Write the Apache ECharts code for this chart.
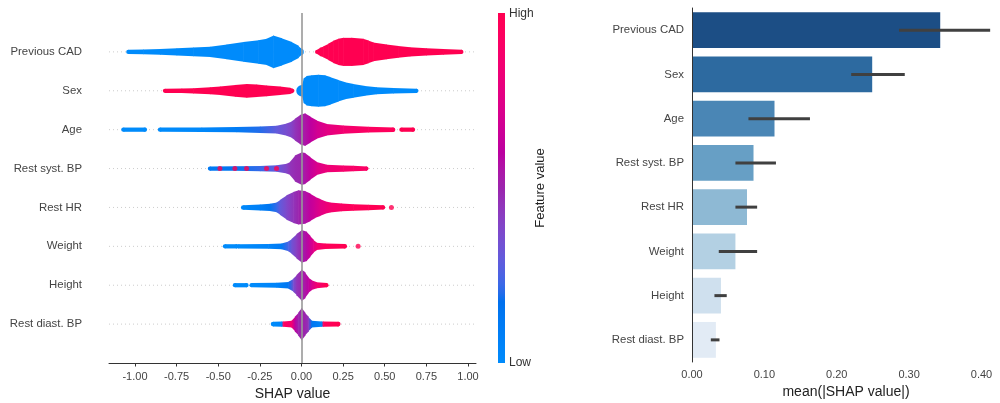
<!DOCTYPE html>
<html>
<head>
<meta charset="utf-8">
<script src="https://cdn.jsdelivr.net/npm/echarts@6/dist/echarts.min.js"></script>
<style>
  html, body { margin: 0; padding: 0; background: #fff; }
  #chart { width: 1000px; height: 403px; }
</style>
</head>
<body>
<div id="chart"></div>
<script>
// ---- Data -------------------------------------------------------------
const features = ['Previous CAD', 'Sex', 'Age', 'Rest syst. BP', 'Rest HR', 'Weight', 'Height', 'Rest diast. BP'];

// Beeswarm outlines per feature: [SHAP value, relative swarm thickness, feature value (0 low .. 1 high)]
const prevCadLow = [[-1.04,0.13,0],[-0.95,0.15,0],[-0.85,0.18,0],[-0.75,0.22,0],[-0.65,0.27,0],[-0.55,0.32,0],[-0.45,0.45,0],[-0.35,0.6,0],[-0.26,0.72,0],[-0.21,0.8,0],[-0.17,1.0,0],[-0.12,0.83,0],[-0.06,0.6,0],[-0.02,0.38,0],[-0.006,0.2,0]];
const prevCadHigh = [[0.094,0.13,1],[0.11,0.25,1],[0.13,0.33,1],[0.16,0.5,1],[0.19,0.68,1],[0.22,0.8,1],[0.25,0.86,1],[0.30,0.86,1],[0.37,0.81,1],[0.40,0.7,1],[0.43,0.57,1],[0.51,0.45,1],[0.58,0.36,1],[0.65,0.28,1],[0.75,0.22,1],[0.85,0.18,1],[0.96,0.13,1]];
const sexHigh = [[-0.82,0.13,1],[-0.72,0.14,1],[-0.65,0.16,1],[-0.55,0.22,1],[-0.49,0.26,1],[-0.40,0.36,1],[-0.33,0.42,1],[-0.27,0.38,1],[-0.21,0.33,1],[-0.13,0.26,1],[-0.07,0.19,1],[-0.055,0.13,1]];
const sexLow = [[0.003,0.35,0],[0.012,0.75,0],[0.03,0.9,0],[0.06,0.95,0],[0.10,0.98,0],[0.14,0.95,0],[0.17,0.85,0],[0.22,0.66,0],[0.26,0.52,0],[0.31,0.42,0],[0.38,0.3,0],[0.45,0.22,0],[0.55,0.17,0],[0.69,0.13,0]];
const ageLowTail = [[-1.07,0.13,0],[-0.94,0.13,0]];
const ageMain = [[-0.85,0.13,0],[-0.6,0.14,0.02],[-0.39,0.16,0.1],[-0.25,0.2,0.2],[-0.15,0.24,0.3],[-0.09,0.38,0.36],[-0.06,0.5,0.4],[-0.04,0.67,0.45],[-0.01,0.9,0.5],[0.02,1.0,0.55],[0.05,0.8,0.6],[0.09,0.56,0.68],[0.15,0.35,0.76],[0.25,0.25,0.86],[0.40,0.18,0.93],[0.55,0.14,0.96]];
const ageHighTail = [[0.60,0.13,1],[0.67,0.13,1]];
const systBp = [[-0.55,0.13,0.12],[-0.40,0.14,0.15],[-0.25,0.16,0.22],[-0.15,0.2,0.3],[-0.09,0.3,0.4],[-0.07,0.4,0.45],[-0.04,0.8,0.48],[0.0,1.0,0.5],[0.02,0.95,0.55],[0.05,0.7,0.62],[0.09,0.4,0.72],[0.15,0.23,0.82],[0.25,0.19,0.88],[0.31,0.17,0.9],[0.39,0.13,0.92]];
const restHr = [[-0.35,0.14,0.02],[-0.25,0.18,0.08],[-0.19,0.22,0.15],[-0.15,0.3,0.22],[-0.13,0.45,0.3],[-0.09,0.75,0.38],[-0.05,0.95,0.45],[-0.02,1.05,0.5],[0.02,1.0,0.55],[0.05,0.85,0.62],[0.08,0.65,0.68],[0.11,0.52,0.75],[0.14,0.38,0.8],[0.17,0.31,0.86],[0.24,0.24,0.92],[0.31,0.2,0.96],[0.40,0.17,0.98],[0.49,0.13,1]];
const weightLowTail = [[-0.46,0.13,0],[-0.39,0.13,0]];
const weightMain = [[-0.38,0.13,0],[-0.2,0.15,0.05],[-0.12,0.18,0.12],[-0.08,0.3,0.25],[-0.06,0.45,0.33],[-0.03,0.75,0.42],[0.0,1.0,0.5],[0.03,0.9,0.58],[0.05,0.65,0.65],[0.07,0.4,0.75],[0.09,0.22,0.85],[0.14,0.17,0.95],[0.26,0.14,1]];
const heightLowTail = [[-0.40,0.13,0],[-0.33,0.13,0]];
const heightMain = [[-0.30,0.13,0],[-0.15,0.15,0.05],[-0.08,0.2,0.15],[-0.05,0.4,0.35],[-0.03,0.62,0.45],[0.0,0.97,0.5],[0.02,0.8,0.55],[0.04,0.48,0.6],[0.06,0.3,0.7],[0.09,0.18,0.85],[0.15,0.13,1]];
const diastBp = [[-0.17,0.15,0],[-0.12,0.16,0.05],[-0.11,0.16,0.95],[-0.06,0.2,0.85],[-0.04,0.45,0.6],[-0.02,0.7,0.5],[0.0,1.0,0.5],[0.02,0.7,0.5],[0.04,0.45,0.45],[0.06,0.2,0.15],[0.12,0.16,0.05],[0.13,0.16,0.95],[0.22,0.15,1]];

// Isolated points: [SHAP value, feature row, feature value]
const singleDots = [[0.54,4,1],[0.34,5,1],[-0.49,3,1],[-0.40,3,1],[-0.33,3,1],[-0.21,3,1],[-0.15,3,1]];

// Bar chart: mean |SHAP| with confidence interval
const meanAbsShap = [0.343, 0.249, 0.114, 0.085, 0.076, 0.060, 0.040, 0.033];
const ciLow  = [0.286, 0.220, 0.078, 0.060, 0.060, 0.037, 0.031, 0.026];
const ciHigh = [0.412, 0.294, 0.163, 0.116, 0.090, 0.090, 0.048, 0.038];

const shapTicks = [-1, -0.75, -0.5, -0.25, 0, 0.25, 0.5, 0.75, 1];
const meanTicks = [0, 0.1, 0.2, 0.3, 0.4];

// ---- Styling constants -----------------------------------------------
const SHAP_MIN = -1.156, SHAP_MAX = 1.048;
const MEAN_MAX = 0.4256;
const SWARM_HALF = 0.42;           // max half-thickness of a swarm, in row units
const barBlues = ['#1c4e85', '#2d6aa0', '#4a86b5', '#679fc5', '#8eb9d4', '#b3d0e3', '#cfe0ee', '#e2ebf5'];
const FONT = "'Liberation Sans', Arial, Helvetica, sans-serif";

// Blue -> red colour map interpolated in LCH space
function shapColor(t) {
  t = Math.max(0, Math.min(1, t));
  const L = t < 0.5 ? 54 - 14 * (t / 0.5) : 40 + 14 * ((t - 0.5) / 0.5);
  const C = 70 + 20 * t;
  const h0 = 4.6588, h1 = 0.35470565 + 2 * Math.PI;
  const H = h0 + (h1 - h0) * t;
  const a = C * Math.cos(H), b = C * Math.sin(H);
  const fy = (L + 16) / 116, fx = a / 500 + fy, fz = fy - b / 200;
  const inv = f => (f ** 3 > 0.008856 ? f ** 3 : (116 * f - 16) / 903.3);
  const X = inv(fx) * 0.95047, Y = (L > 8 ? fy ** 3 : L / 903.3), Z = inv(fz) * 1.08883;
  let r = 3.2406 * X - 1.5372 * Y - 0.4986 * Z;
  let g = -0.9689 * X + 1.8758 * Y + 0.0415 * Z;
  let bl = 0.0557 * X - 0.2040 * Y + 1.0570 * Z;
  const gam = v => {
    v = v <= 0.0031308 ? 12.92 * v : 1.055 * Math.pow(v, 1 / 2.4) - 0.055;
    return Math.round(Math.max(0, Math.min(1, v)) * 255);
  };
  return `rgb(${gam(r)},${gam(g)},${gam(bl)})`;
}

// ---- Build swarm segments --------------------------------------------
const swarmRuns = [
  [0, prevCadLow], [0, prevCadHigh],
  [1, sexHigh], [1, sexLow],
  [2, ageLowTail], [2, ageMain], [2, ageHighTail],
  [3, systBp],
  [4, restHr],
  [5, weightLowTail], [5, weightMain],
  [6, heightLowTail], [6, heightMain],
  [7, diastBp]
];
const segData = [];
swarmRuns.forEach(([row, prof]) => {
  for (let i = 0; i < prof.length - 1; i++) {
    const a = prof[i], b = prof[i + 1];
    segData.push([a[0], b[0], row, a[1], b[1], a[2], b[2], i === 0 ? 1 : 0, i === prof.length - 2 ? 1 : 0]);
  }
});

function renderSeg(params, api) {
  const row = api.value(2);
  const p0 = api.coord([api.value(0), row]);
  const p1 = api.coord([api.value(1), row]);
  const unit = Math.abs(api.size([0, 1])[1]);
  const h0 = api.value(3) * SWARM_HALF * unit;
  const h1 = api.value(4) * SWARM_HALF * unit;
  const c0 = shapColor(api.value(5)), c1 = shapColor(api.value(6));
  const fill = new echarts.graphic.LinearGradient(0, 0, 1, 0, [
    { offset: 0, color: c0 }, { offset: 1, color: c1 }
  ]);
  const children = [{
    type: 'polygon',
    shape: { points: [[p0[0], p0[1] - h0], [p1[0] + 0.6, p1[1] - h1], [p1[0] + 0.6, p1[1] + h1], [p0[0], p0[1] + h0]] },
    style: { fill: fill }
  }];
  if (api.value(7)) children.push({ type: 'circle', shape: { cx: p0[0], cy: p0[1], r: h0 }, style: { fill: c0 } });
  if (api.value(8)) children.push({ type: 'circle', shape: { cx: p1[0], cy: p1[1], r: h1 }, style: { fill: c1 } });
  return { type: 'group', children: children };
}

function renderRowGuide(params, api) {
  const row = api.value(0);
  const a = api.coord([SHAP_MIN, row]);
  const b = api.coord([SHAP_MAX, row]);
  return {
    type: 'line',
    shape: { x1: a[0], y1: a[1], x2: b[0], y2: b[1] },
    style: { stroke: '#cccccc', lineWidth: 1, lineDash: [1, 3] }
  };
}

function renderErr(params, api) {
  const idx = api.value(2);
  const a = api.coord([api.value(0), idx]);
  const b = api.coord([api.value(1), idx]);
  return {
    type: 'line',
    shape: { x1: a[0], y1: a[1], x2: b[0], y2: b[1] },
    style: { stroke: '#404040', lineWidth: 3, lineCap: 'butt' }
  };
}

// colour bar stops
const cbStops = [];
for (let i = 0; i <= 40; i++) cbStops.push({ offset: i / 40, color: shapColor(i / 40) });

const chart = echarts.init(document.getElementById('chart'), null, { renderer: 'canvas' });
chart.setOption({
  animation: false,
  textStyle: { fontFamily: FONT },
  grid: [
    { left: 109, top: 13, width: 367, height: 350, outerBoundsMode: 'none', containLabel: false },
    { left: 692, top: 8, width: 308, height: 354, outerBoundsMode: 'none', containLabel: false }
  ],
  xAxis: [
    {
      gridIndex: 0, type: 'value', min: SHAP_MIN, max: SHAP_MAX, z: 10,
      axisLine: { onZero: false, lineStyle: { color: '#333', width: 1 } },
      axisTick: { customValues: shapTicks, length: 3.5, lineStyle: { color: '#333' } },
      axisLabel: { customValues: shapTicks, formatter: v => v.toFixed(2), fontSize: 11, color: '#444', margin: 8, fontFamily: FONT },
      splitLine: { show: false },
      name: 'SHAP value', nameLocation: 'middle', nameGap: 23,
      nameTextStyle: { fontSize: 14, color: '#222', fontFamily: FONT }
    },
    {
      gridIndex: 1, type: 'value', min: 0, max: MEAN_MAX, z: 10,
      axisLine: { onZero: false, lineStyle: { color: '#333', width: 1 } },
      axisTick: { customValues: meanTicks, length: 4, lineStyle: { color: '#333' } },
      axisLabel: { customValues: meanTicks, formatter: v => v.toFixed(2), fontSize: 11, color: '#444', margin: 7, fontFamily: FONT },
      splitLine: { show: false },
      name: 'mean(|SHAP value|)', nameLocation: 'middle', nameGap: 23,
      nameTextStyle: { fontSize: 14, color: '#222', fontFamily: FONT }
    }
  ],
  yAxis: [
    {
      gridIndex: 0, type: 'value', min: -1, max: 8, interval: 1, inverse: true,
      axisLine: { show: false, onZero: false }, axisTick: { show: false }, splitLine: { show: false },
      axisLabel: { formatter: v => (features[v] !== undefined ? features[v] : ''), fontSize: 11.4, color: '#444', margin: 27, fontFamily: FONT }
    },
    {
      gridIndex: 1, type: 'category', data: features, inverse: true, z: 10,
      axisLine: { onZero: false, lineStyle: { color: '#333', width: 1 } },
      axisTick: { alignWithLabel: true, length: 4, lineStyle: { color: '#333' } },
      axisLabel: { fontSize: 11.4, color: '#444', margin: 8, fontFamily: FONT },
      splitLine: { show: false }
    }
  ],
  series: [
    {
      type: 'custom', name: 'rows', xAxisIndex: 0, yAxisIndex: 0, z: 1,
      data: features.map((f, i) => [i]), encode: { y: 0 },
      renderItem: renderRowGuide, silent: true, clip: false,
      markLine: {
        silent: true, symbol: ['none', 'none'], label: { show: false },
        lineStyle: { color: '#999', width: 1.6, type: 'solid' },
        data: [{ xAxis: 0 }]
      }
    },
    {
      type: 'custom', name: 'swarm', xAxisIndex: 0, yAxisIndex: 0, z: 3,
      data: segData, encode: { x: [0, 1], y: 2 },
      renderItem: renderSeg, silent: true, clip: false
    },
    {
      type: 'scatter', name: 'dots', xAxisIndex: 0, yAxisIndex: 0, z: 4,
      symbolSize: 5, silent: true,
      data: singleDots.map(d => ({ value: [d[0], d[1]], itemStyle: { color: shapColor(d[2]) } }))
    },
    {
      type: 'bar', name: 'mean', xAxisIndex: 1, yAxisIndex: 1, barWidth: '81%',
      data: meanAbsShap.map((v, i) => ({ value: v, itemStyle: { color: barBlues[i] } })),
      silent: true
    },
    {
      type: 'custom', name: 'ci', xAxisIndex: 1, yAxisIndex: 1, z: 5,
      data: ciLow.map((lo, i) => [lo, ciHigh[i], i]), encode: { x: [0, 1], y: 2 },
      renderItem: renderErr, silent: true
    }
  ],
  graphic: [
    {
      type: 'rect', left: 498, top: 13, z: 10,
      shape: { width: 7, height: 350 },
      style: { fill: new echarts.graphic.LinearGradient(0, 1, 0, 0, cbStops) }
    },
    { type: 'text', x: 509, y: 14, style: { text: 'High', fontSize: 12, fill: '#333', verticalAlign: 'middle', fontFamily: FONT } },
    { type: 'text', x: 509, y: 363, style: { text: 'Low', fontSize: 12, fill: '#333', verticalAlign: 'middle', fontFamily: FONT } },
    { type: 'text', x: 540, y: 188, rotation: Math.PI / 2, style: { text: 'Feature value', fontSize: 13, fill: '#222', align: 'center', verticalAlign: 'middle', fontFamily: FONT } }
  ]
});
</script>
</body>
</html>
